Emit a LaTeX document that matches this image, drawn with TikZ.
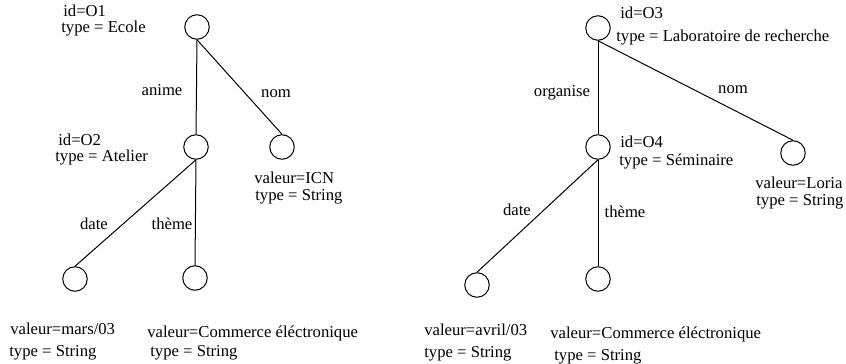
\documentclass[tikz,border=0pt]{standalone}
\usepackage{fontspec}
\setmainfont{Liberation Serif}

\tikzset{
  obj/.style={circle, draw, line width=0.6pt, minimum size=14.7pt, inner sep=0pt},
  txt/.style={anchor=base west, inner sep=0pt, font=\fontsize{10}{12}\selectfont},
  lbl/.style={anchor=base, inner sep=0pt, font=\fontsize{10}{12}\selectfont},
  arc/.style={line width=0.6pt}
}

\begin{document}
\begin{tikzpicture}[x=0.6pt, y=-0.6pt]

\useasboundingbox (0,0) rectangle (846,363);

% objets
\foreach \n/\x/\y in {O1/197/27, O2/196/147, icn/282/147, mars/75/279, comA/195/278,
                      O3/598/28, O4/598/147, loria/793/153, avril/477/285, comB/598/279}
  \node[obj] (\n) at (\x,\y) {};

% arcs
\foreach \a/\b in {O1/O2, O1/icn, O2/mars, O2/comA, O3/O4, O3/loria, O4/avril, O4/comB}
  \draw[arc] (\a.south) -- (\b.north);

% premier graphe
\node[txt] (idA) at (63,16) {id=O1};
\node[txt] (tyA) at (61,32) {type = Ecole};
\node[lbl] (anime) at (162,95) {anime};
\node[lbl] (nomA) at (276,97) {nom};
\node[txt] (idB) at (58,145) {id=O2};
\node[txt] (tyB) at (55,161) {type = Atelier};
\node[txt] (vIcn) at (254,183) {valeur=ICN};
\node[txt] (tIcn) at (255,200) {type = String};
\node[lbl] (dateA) at (94,229) {date};
\node[lbl] (themeA) at (172,229) {thème};
\node[txt] (vMars) at (10,334) {valeur=mars/03};
\node[txt] (tMars) at (9,356) {type = String};
\node[txt] (vComA) at (147,337) {valeur=Commerce éléctronique};
\node[txt] (tComA) at (150,356) {type = String};

% second graphe
\node[txt] (idC) at (620,18) {id=O3};
\node[txt] (tyC) at (616,41) {type = Laboratoire de recherche};
\node[lbl] (organise) at (562,96) {organise};
\node[lbl] (nomB) at (733,93) {nom};
\node[txt] (idD) at (620,147) {id=O4};
\node[txt] (tyD) at (619,165) {type = Séminaire};
\node[txt] (vLoria) at (755,188) {valeur=Loria};
\node[txt] (tLoria) at (756,205) {type = String};
\node[lbl] (dateB) at (517,215) {date};
\node[lbl] (themeB) at (625,217) {thème};
\node[txt] (vAvril) at (424,335) {valeur=avril/03};
\node[txt] (tAvril) at (424,357) {type = String};
\node[txt] (vComB) at (550,338) {valeur=Commerce éléctronique};
\node[txt] (tComB) at (554,360) {type = String};

\end{tikzpicture}
\end{document}
